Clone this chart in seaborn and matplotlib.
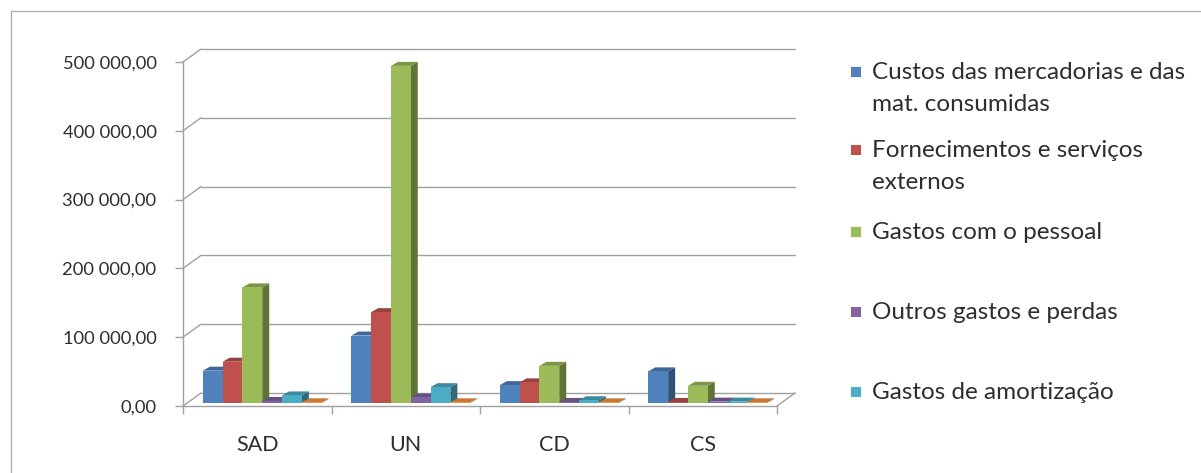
import matplotlib
matplotlib.use("Agg")
import numpy as np
import pandas as pd
import matplotlib.pyplot as plt
import seaborn as sns
from matplotlib.patches import Polygon, Rectangle
from matplotlib.lines import Line2D
from matplotlib.ticker import FuncFormatter, FixedLocator

# ---- data -------------------------------------------------------------
categories = ["SAD", "UN", "CD", "CS"]
series_names = [
    "Custos das mercadorias e das mat. consumidas",
    "Fornecimentos e serviços externos",
    "Gastos com o pessoal",
    "Outros gastos e perdas",
    "Gastos de amortização",
    "Gastos e perdas de financiamento",
]
custos_mercadorias = [47000, 98000, 26000, 46000]
fornecimentos = [60000, 132000, 30000, 1500]
gastos_pessoal = [168000, 490000, 54000, 25000]
outros_gastos = [3000, 8000, 1500, 2000]
amortizacao = [11000, 23000, 4000, 2000]
financiamento = [1000, 1000, 1000, 1000]

legend_lines = [
    ["Custos das mercadorias e das", "mat. consumidas"],
    ["Fornecimentos e serviços", "externos"],
    ["Gastos com o pessoal"],
    ["Outros gastos e perdas"],
    ["Gastos de amortização"],
]
y_ticks = [0, 100000, 200000, 300000, 400000, 500000]

colors = ["#4F81BD", "#C0504D", "#9BBB59", "#8064A2", "#4BACC6", "#F79646"]

values = [custos_mercadorias, fornecimentos, gastos_pessoal,
          outros_gastos, amortizacao, financiamento]
df = pd.DataFrame(
    [(c, s, v[i]) for s, v in zip(series_names, values) for i, c in enumerate(categories)],
    columns=["categoria", "rubrica", "valor"],
)

# ---- figure -----------------------------------------------------------
sns.set_theme(style="white")
plt.rcParams["font.family"] = ["Lato", "DejaVu Sans"]

W, H = 1201, 473
fig = plt.figure(figsize=(W / 100, H / 100), dpi=100)
fig.patch.set_facecolor("white")

# chart frame (top and left edges)
fig.add_artist(Line2D([11 / W, 11 / W], [0, 1 - 11 / H], color="#b0b0b0", lw=1.0))
fig.add_artist(Line2D([11 / W, 1], [1 - 11 / H, 1 - 11 / H], color="#b0b0b0", lw=1.0))

ax_left, ax_right, ax_top, ax_bottom = 183, 777, 62, 406
ax = fig.add_axes([ax_left / W, 1 - ax_bottom / H,
                   (ax_right - ax_left) / W, (ax_bottom - ax_top) / H])
ax.set_facecolor("none")

sns.barplot(data=df, x="categoria", y="valor", hue="rubrica",
            order=categories, hue_order=series_names, palette=colors,
            saturation=1, errorbar=None, width=0.8, linewidth=0,
            legend=False, ax=ax)

ax.set_xlim(-0.5, len(categories) - 0.5)
ax.set_ylim(0, 500000)

# pixel -> data conversion for the pseudo-3D depth
px_x = (len(categories)) / (ax_right - ax_left)
px_y = 500000 / (ax_bottom - ax_top)
wall_dx, wall_dy = 18 * px_x, 13 * px_y     # back wall offset
mid_dx, mid_dy = 5 * px_x, 3 * px_y         # bars stand half-way into the floor
bar_dx, bar_dy = 7 * px_x, 4 * px_y         # bar depth

grid_col = "#a0a0a0"
x0, x1 = ax.get_xlim()

# back wall gridlines and left-wall diagonals
for v in y_ticks:
    ax.plot([x0 + wall_dx, x1 + wall_dx], [v + wall_dy, v + wall_dy],
            color=grid_col, lw=1.0, clip_on=False, zorder=1)
    ax.plot([x0, x0 + wall_dx], [v, v + wall_dy],
            color=grid_col, lw=1.0, clip_on=False, zorder=1)
# floor right edge
ax.plot([x1, x1 + wall_dx], [0, wall_dy], color=grid_col, lw=1.0,
        clip_on=False, zorder=1)

# give each bar a top and a side face
def shade(c, f):
    r, g, b, a = c
    return (r * f, g * f, b * f, a)

bars = sorted(ax.patches, key=lambda p: p.get_x())
for i, p in enumerate(bars):
    z = 3 + 0.01 * i
    bh = p.get_height()
    bw = p.get_width()
    bx = p.get_x() + mid_dx
    by = mid_dy
    p.set_x(bx)
    p.set_y(by)
    p.set_clip_on(False)
    fc = p.get_facecolor()
    p.set_zorder(z + 0.002)
    side = Polygon([(bx + bw, by), (bx + bw + bar_dx, by + bar_dy),
                    (bx + bw + bar_dx, by + bh + bar_dy), (bx + bw, by + bh)],
                   closed=True, facecolor=shade(fc, 0.62), edgecolor="none",
                   zorder=z, clip_on=False)
    top = Polygon([(bx, by + bh), (bx + bar_dx, by + bh + bar_dy),
                   (bx + bw + bar_dx, by + bh + bar_dy), (bx + bw, by + bh)],
                  closed=True, facecolor=shade(fc, 0.8), edgecolor="none",
                  zorder=z + 0.001, clip_on=False)
    ax.add_patch(side)
    ax.add_patch(top)

# axes, ticks and labels
for s in ["top", "right"]:
    ax.spines[s].set_visible(False)
for s in ["left", "bottom"]:
    ax.spines[s].set_color(grid_col)
    ax.spines[s].set_linewidth(1.0)
    ax.spines[s].set_zorder(2)

text_col = "#2e2e2e"
fmt = FuncFormatter(lambda v, _: f"{v:,.2f}".replace(",", " ").replace(".", ","))
ax.yaxis.set_major_locator(FixedLocator(y_ticks))
ax.yaxis.set_major_formatter(fmt)
ax.tick_params(axis="y", which="major", length=6, width=1, color=grid_col,
               direction="out", pad=13, labelsize=13.2, labelcolor=text_col, left=True)

ax.set_xticks(range(len(categories)))
ax.set_xticklabels(categories)
ax.xaxis.set_minor_locator(FixedLocator(np.arange(-0.5, len(categories), 1.0)))
ax.tick_params(axis="x", which="major", length=0, pad=21, labelsize=15.5,
               labelcolor=text_col, bottom=True)
ax.tick_params(axis="x", which="minor", length=6, width=1, color=grid_col,
               direction="out", bottom=True)
ax.set_xlabel("")
ax.set_ylabel("")
ax.grid(False)

# legend
baselines = [79, 157, 239, 319, 399]
line_gap = 32
for c, lines, yb in zip(colors, legend_lines, baselines):
    fig.add_artist(Rectangle((851 / W, 1 - (yb - 2) / H), 10 / W, 10 / H,
                             transform=fig.transFigure, facecolor=c,
                             edgecolor="none"))
    for k, ln in enumerate(lines):
        fig.text(872 / W, 1 - (yb + k * line_gap) / H, ln, fontsize=17.5,
                 color=text_col, ha="left", va="baseline")

fig.savefig("out.png", dpi=100, facecolor="white")
